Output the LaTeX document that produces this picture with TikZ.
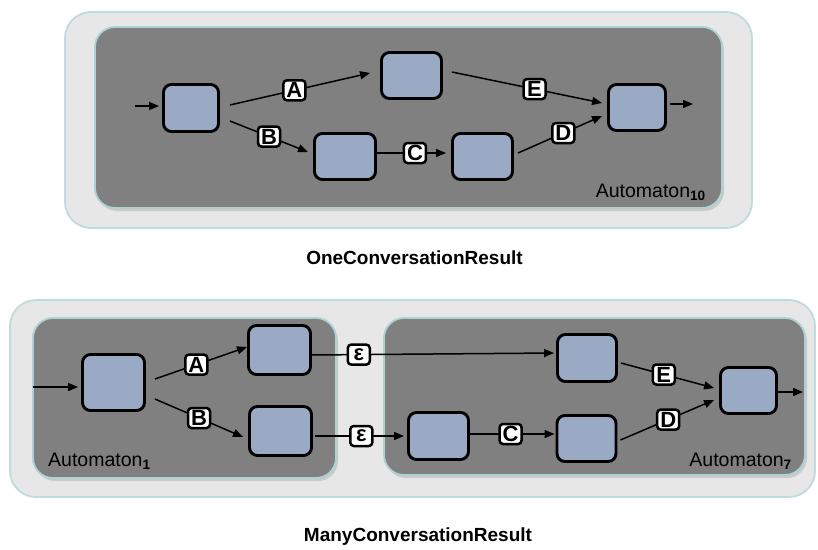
\documentclass[tikz,border=0pt]{standalone}
\usepackage{fontspec}
\setmainfont{Liberation Sans}
\usetikzlibrary{arrows.meta,calc}
\definecolor{panel}{RGB}{231,231,231}
\definecolor{panelrim}{RGB}{192,219,219}
\definecolor{autofill}{RGB}{128,128,128}
\definecolor{autorim}{RGB}{172,210,210}
\definecolor{statefill}{RGB}{155,170,196}

\begin{document}
\begin{tikzpicture}[x=1pt,y=-1pt,
  panelbox/.style={fill=panel, draw=panelrim, line width=1.8pt, rounded corners=26pt},
  autobox/.style={fill=autofill, draw=autorim, line width=1.8pt, rounded corners=20pt},
  boxshadow/.style={fill=black, opacity=0.12, rounded corners=20pt},
  state/.style={draw=black, line width=2.9pt, fill=statefill, rounded corners=8pt, inner sep=0pt},
  lbl/.style={draw=black, fill=white, line width=2.5pt, rounded corners=3.5pt, inner sep=0pt,
    minimum width=22pt, minimum height=20pt, font=\fontsize{22}{22}\selectfont\bfseries},
  tr/.style={line width=1.5pt, -{Triangle[length=10pt,width=8pt]}},
  autoname/.style={font=\fontsize{19.5}{19.5}\selectfont, inner sep=0pt},
  title/.style={font=\fontsize{19}{19}\selectfont\bfseries, inner sep=0pt}]
\useasboundingbox (0,0) rectangle (818,549);
\fill[white] (0,0) rectangle (818,549);

% ---------- single automaton ----------
\draw[panelbox] (65,12) rectangle (752,228);
\fill[boxshadow] (97,30) rectangle (724,211);
\draw[autobox] (95,27) rectangle (722,208);

\node[state, minimum width=55pt, minimum height=47pt] (n1) at (191,108) {};
\node[state, minimum width=60pt, minimum height=46pt] (n2) at (411.5,75.5) {};
\node[state, minimum width=61pt, minimum height=46pt] (n3) at (345,156.5) {};
\node[state, minimum width=60pt, minimum height=46pt] (n4) at (482.5,156.5) {};
\node[state, minimum width=57pt, minimum height=46pt] (n5) at (637,107.5) {};

\coordinate (in1) at (135,106);
\draw[tr] (in1) -- ([shift={(-3,-2)}]n1.west);
\draw[tr] ([shift={(10,-3)}]n1.east) -- node[lbl, pos=0.46] {A} ([shift={(-10,-2.5)}]n2.west);
\draw[tr] ([shift={(10,13)}]n1.east) -- node[lbl, pos=0.5] {B} ([shift={(-5,-4.5)}]n3.west);
\draw[tr] ([shift={(0,-3.5)}]n3.east) -- node[lbl, pos=0.55] {C} ([shift={(-5,-3.5)}]n4.west);
\draw[tr] ([shift={(4,-3.5)}]n4.east) -- node[lbl, pos=0.54] {D} ([shift={(-5,8.5)}]n5.west);
\draw[tr] ([shift={(9,-3.5)}]n2.east) -- node[lbl, pos=0.55] {E} ([shift={(-5,-4.5)}]n5.west);
\coordinate (out1) at (693,104);
\draw[tr] ([shift={(3,-3.5)}]n5.east) -- (out1);

\node[autoname, anchor=base east] (a10) at (706,197) {Automaton\textsubscript{\bfseries 10}};
\node[title] (t1) at (414.5,258) {OneConversationResult};

% ---------- composed automata ----------
\draw[panelbox] (10,300) rectangle (815,497);
\fill[boxshadow] (35,321) rectangle (338,481);
\draw[autobox] (33,318) rectangle (336,478);
\fill[boxshadow] (386,321) rectangle (807,478);
\draw[autobox] (384,318) rectangle (805,475);

\node[state, minimum width=62pt, minimum height=56pt] (m1) at (113.5,382.5) {};
\node[state, minimum width=62pt, minimum height=49pt] (m2) at (279.5,350) {};
\node[state, minimum width=62pt, minimum height=49pt] (m3) at (280.5,431) {};
\node[state, minimum width=60pt, minimum height=47pt] (m4) at (438.5,436) {};
\node[state, minimum width=59pt, minimum height=47pt] (m5) at (587,358) {};
\node[state, minimum width=59pt, minimum height=46pt] (m6) at (586.5,438.5) {};
\node[state, minimum width=56pt, minimum height=46pt] (m7) at (748.5,390.5) {};

\coordinate (in2) at (33,387);
\draw[tr] (in2) -- ([shift={(-3,4.5)}]m1.west);
\draw[tr] ([shift={(9,-3.5)}]m1.east) -- node[lbl, pos=0.45] {A} ([shift={(0,-3)}]m2.west);
\draw[tr] ([shift={(9,16.5)}]m1.east) -- node[lbl, pos=0.5] {B} ([shift={(-5,6)}]m3.west);
\draw[tr] ([shift={(-2,5)}]m2.east) -- node[lbl, pos=0.2] {ε} ([shift={(-2,-5)}]m5.west);
\draw[tr] ([shift={(2,5)}]m3.east) -- node[lbl, pos=0.52] {ε} ([shift={(-3,0)}]m4.west);
\draw[tr] ([shift={(0,-2)}]m4.east) -- node[lbl, pos=0.48] {C} ([shift={(-1,-4.5)}]m6.west);
\draw[tr] ([shift={(3,5)}]m5.east) -- node[lbl, pos=0.46] {E} ([shift={(-5,-2.5)}]m7.west);
\draw[tr] ([shift={(3,1.5)}]m6.east) -- node[lbl, pos=0.51] {D} ([shift={(-5,9.5)}]m7.west);
\coordinate (out2) at (803,392);
\draw[tr] ([shift={(0,1.5)}]m7.east) -- (out2);

\node[autoname, anchor=base west] (a1) at (48,466) {Automaton\textsubscript{\bfseries 1}};
\node[autoname, anchor=base east] (a7) at (792,466) {Automaton\textsubscript{\bfseries 7}};
\node[title] (t2) at (418,537) {ManyConversationResult};
\end{tikzpicture}
\end{document}
